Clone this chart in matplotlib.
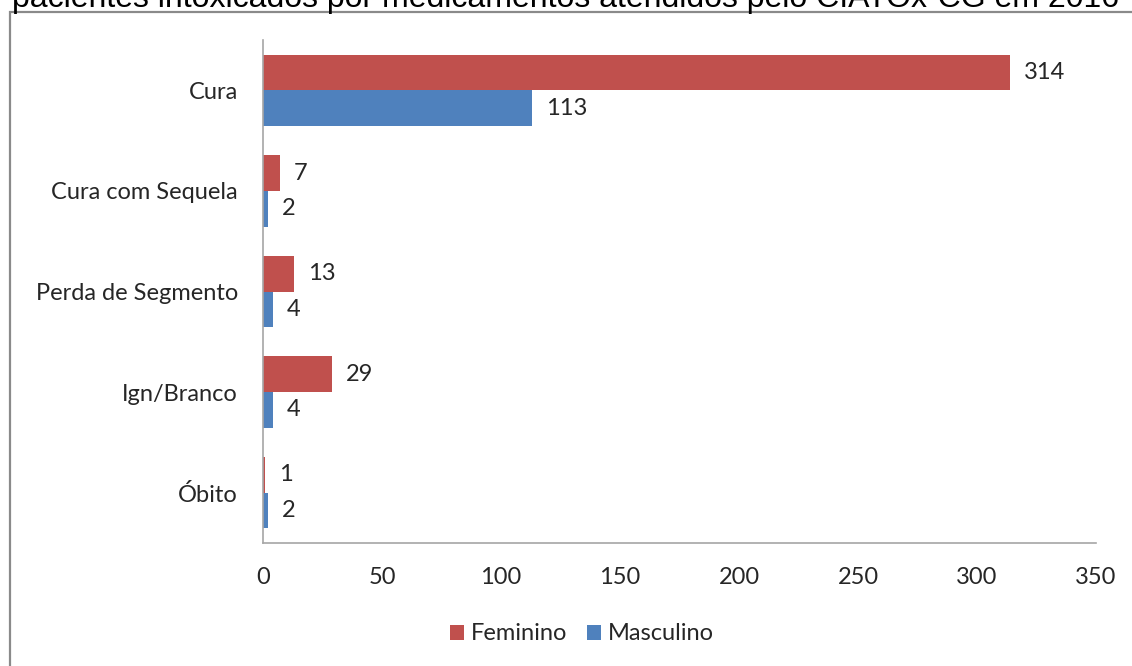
import matplotlib
matplotlib.use("Agg")
import matplotlib.pyplot as plt
from matplotlib.patches import Rectangle
import numpy as np

categories = ["Cura", "Cura com Sequela", "Perda de Segmento", "Ign/Branco", "Óbito"]
feminino = [314, 7, 13, 29, 1]
masculino = [113, 2, 4, 4, 2]
series_names = ["Feminino", "Masculino"]
xticks = [0, 50, 100, 150, 200, 250, 300, 350]
title = "pacientes intoxicados por medicamentos atendidos pelo CIATOx-CG em 2016"

RED = "#C0504D"
BLUE = "#4F81BD"
FONT = ["Lato", "DejaVu Sans"]
FS = 17

W, H = 1132, 666
fig = plt.figure(figsize=(W / 100, H / 100), dpi=100)

# outer chart frame
fig.patches.append(Rectangle((10 / W, -0.05), 1.2, 1 - 12 / H + 0.05,
                             transform=fig.transFigure, fill=False,
                             edgecolor="#8a8a8a", linewidth=1.6))
# title (partly cut at the top edge, as in the source)
fig.text(12 / W, 1 - 7 / H, title, fontsize=23, family="Liberation Sans",
         va="baseline", ha="left", color="black")

ax = fig.add_axes([263 / W, 1 - 543 / H, (1096 - 263) / W, (543 - 40) / H])

y = np.arange(len(categories))
h = 0.355
b1 = ax.barh(y - h / 2, feminino, height=h, color=RED, label=series_names[0])
b2 = ax.barh(y + h / 2, masculino, height=h, color=BLUE, label=series_names[1])

for bars, vals in ((b1, feminino), (b2, masculino)):
    for bar, v in zip(bars, vals):
        ax.annotate(str(v), (bar.get_width(), bar.get_y() + bar.get_height() / 2),
                    xytext=(10, 0), textcoords="offset points", va="center",
                    ha="left", fontsize=FS, family=FONT, color="#262626")

ax.set_ylim(len(categories) - 0.5, -0.5)
ax.set_xlim(0, 350)
ax.set_yticks(y)
ax.set_yticklabels(categories, fontsize=FS, family=FONT, color="#262626")
ax.set_xticks(xticks)
ax.set_xticklabels([str(t) for t in xticks], fontsize=FS, family=FONT, color="#262626")
ax.tick_params(axis="both", length=0)
ax.tick_params(axis="y", pad=18)
ax.tick_params(axis="x", pad=17)
for s in ("top", "right"):
    ax.spines[s].set_visible(False)
for s in ("left", "bottom"):
    ax.spines[s].set_color("#a6a6a6")
    ax.spines[s].set_linewidth(1.2)

leg = fig.legend(handles=[b1, b2], labels=series_names, loc="center",
                 bbox_to_anchor=(582 / W, 1 - 634 / H), ncol=2, frameon=False,
                 prop={"family": FONT, "size": FS}, handlelength=0.6,
                 handleheight=0.6, handletextpad=0.3, columnspacing=0.8)
for t in leg.get_texts():
    t.set_color("#262626")

fig.savefig("out.png", dpi=100)
